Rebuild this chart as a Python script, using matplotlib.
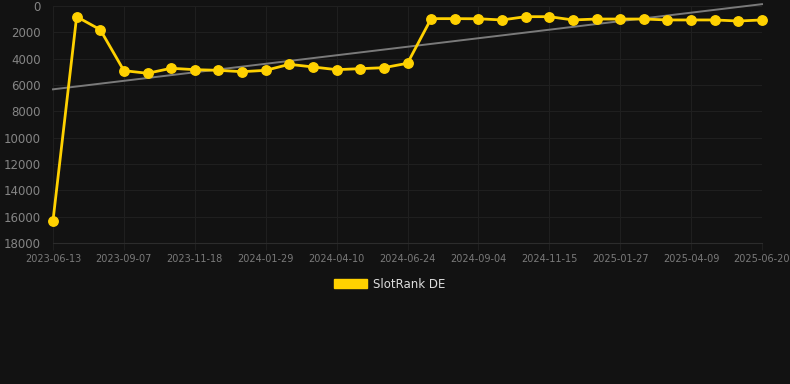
import matplotlib
matplotlib.use("Agg")
import matplotlib.pyplot as plt
import numpy as np

dates = ["2023-06-13", "", "", "2023-09-07", "", "", "2023-11-18", "", "",
         "2024-01-29", "", "", "2024-04-10", "", "", "2024-06-24", "", "",
         "2024-09-04", "", "", "2024-11-15", "", "", "2025-01-27", "", "",
         "2025-04-09", "", "", "2025-06-20"]
rank = [16300, 810, 1800, 4910, 5110, 4730, 4835, 4885, 4990, 4885,
        4430, 4630, 4835, 4760, 4685, 4350, 960, 960, 970, 1060,
        810, 810, 1060, 990, 990, 990, 1060, 1060, 1060, 1140, 1060]
yticks = [0, 2000, 4000, 6000, 8000, 10000, 12000, 14000, 16000, 18000]
series_name = "SlotRank DE"

bg = "#121212"
yellow = "#FFD100"
fig = plt.figure(figsize=(7.9, 3.84), dpi=100, facecolor=bg)
ax = fig.add_axes([53/790, 1-243/384, (762-53)/790, (243-6)/384], facecolor=bg)

x = np.arange(len(rank))
coef = np.polyfit(x, rank, 1)
trend = np.polyval(coef, x)
ax.plot(x, trend, color="#7a7a7a", lw=1.4, zorder=2, clip_on=False)
ax.plot(x, rank, color=yellow, lw=2.0, marker="o", markersize=6.8,
        zorder=3, clip_on=False, label=series_name)

ax.set_xlim(0, len(rank)-1)
ax.set_ylim(18000, 0)
ax.set_yticks(yticks)
ax.set_yticklabels([str(v) for v in yticks])
tick_idx = [i for i, d in enumerate(dates) if d]
ax.set_xticks(tick_idx)
ax.set_xticklabels([dates[i] for i in tick_idx])

ax.grid(True, color="#1f1f1f", lw=0.8)
ax.set_axisbelow(True)
for s in ["top", "right", "left"]:
    ax.spines[s].set_visible(False)
ax.spines["bottom"].set_color("#2c2c2c")
ax.tick_params(axis="y", length=0, pad=9, labelsize=8.5, labelcolor="#858585")
ax.tick_params(axis="x", length=5, color="#1f1f1f", pad=3, labelsize=7, labelcolor="#7a7a7a")

leg = fig.legend(handles=[plt.Rectangle((0, 0), 1, 1, color=yellow)], labels=[series_name],
                 loc="center", bbox_to_anchor=(390/790, 1-284/384), frameon=False,
                 handlelength=2.8, handleheight=0.9, handletextpad=0.5,
                 prop={"size": 8.5})
for t in leg.get_texts():
    t.set_color("#dddddd")

fig.savefig("out.png", dpi=100, facecolor=bg)
